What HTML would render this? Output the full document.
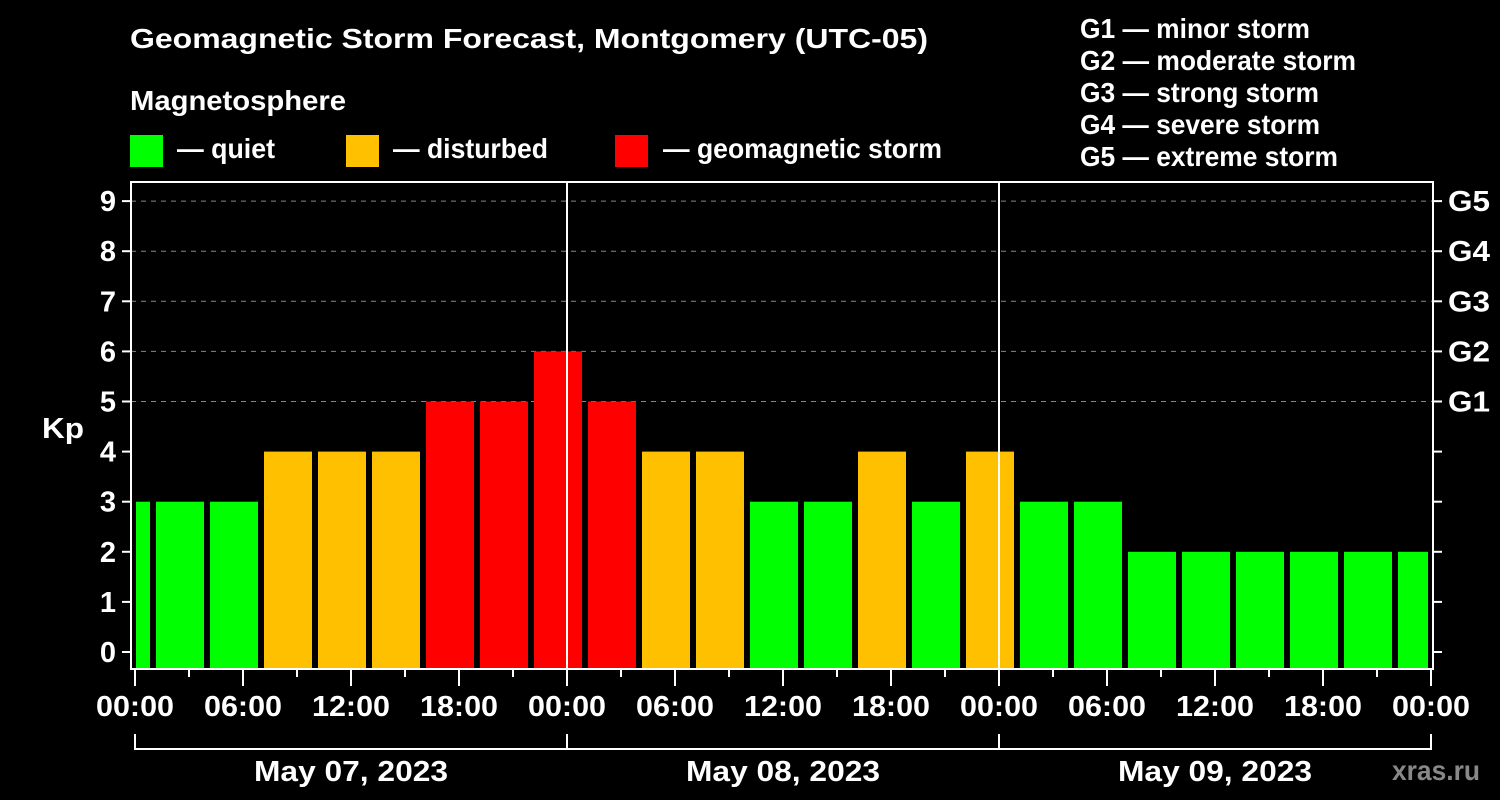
<!DOCTYPE html>
<html><head><meta charset="utf-8"><style>
body{margin:0;background:#000;}
svg{display:block;font-family:"Liberation Sans",sans-serif;font-weight:bold;}
</style></head><body>
<svg id="c" width="1500" height="800" viewBox="0 0 1500 800">
<rect width="1500" height="800" fill="#000"/>
<text x="130" y="48" fill="#fff" font-size="28" textLength="798" lengthAdjust="spacingAndGlyphs">Geomagnetic Storm Forecast, Montgomery (UTC-05)</text>
<text x="130" y="110" fill="#fff" font-size="28" textLength="216" lengthAdjust="spacingAndGlyphs">Magnetosphere</text>
<g><rect x="130" y="135" width="33" height="32" fill="#00ff00"/><text x="177" y="158" fill="#fff" font-size="28" textLength="98" lengthAdjust="spacingAndGlyphs">— quiet</text></g>
<g><rect x="346" y="135" width="33" height="32" fill="#ffc000"/><text x="393" y="158" fill="#fff" font-size="28" textLength="155" lengthAdjust="spacingAndGlyphs">— disturbed</text></g>
<g><rect x="615" y="135" width="33" height="32" fill="#ff0000"/><text x="663" y="158" fill="#fff" font-size="28" textLength="279" lengthAdjust="spacingAndGlyphs">— geomagnetic storm</text></g>
<g fill="#fff" font-size="28">
<text x="1080" y="38" textLength="230" lengthAdjust="spacingAndGlyphs">G1 — minor storm</text>
<text x="1080" y="70" textLength="276" lengthAdjust="spacingAndGlyphs">G2 — moderate storm</text>
<text x="1080" y="102" textLength="239" lengthAdjust="spacingAndGlyphs">G3 — strong storm</text>
<text x="1080" y="134" textLength="240" lengthAdjust="spacingAndGlyphs">G4 — severe storm</text>
<text x="1080" y="166" textLength="258" lengthAdjust="spacingAndGlyphs">G5 — extreme storm</text>
</g>
<text x="42" y="438" fill="#fff" font-size="29" textLength="42" lengthAdjust="spacingAndGlyphs">Kp</text>
<text x="1392" y="780" fill="#888" font-size="28" textLength="88" lengthAdjust="spacingAndGlyphs">xras.ru</text>
<g id="plot"></g>
</svg>
<script>
const kpValues=[3,3,3,4,4,4,5,5,6,5,4,4,3,3,4,3,4,3,3,2,2,2,2,2,2];
const barStartHours=[-2,1,4,7,10,13,16,19,22,25,28,31,34,37,40,43,46,49,52,55,58,61,64,67,70];
const yTicks=[0,1,2,3,4,5,6,7,8,9];
const gLabels=["G1","G2","G3","G4","G5"];
const hourLabels=["00:00","06:00","12:00","18:00"];
const dayLabels=["May 07, 2023","May 08, 2023","May 09, 2023"];
const NS="http://www.w3.org/2000/svg";
const g=document.getElementById('plot');
const X0=135,PH=18,Y0=652,PY=50.1,L=131,R=1433,T=182,B=669;
const xs=h=>X0+h*PH, ys=v=>Y0-v*PY;
function mk(t,a,p){const e=document.createElementNS(NS,t);for(const k in a)e.setAttribute(k,a[k]);(p||g).appendChild(e);return e;}
function col(v){return v>=5?"#ff0000":v>=4?"#ffc000":"#00ff00";}
yTicks.forEach(v=>{if(v>=5){const l=mk('line',{x1:L,x2:R,y1:ys(v),y2:ys(v),stroke:'#888','stroke-dasharray':'5,5','stroke-width':1});

}});
kpValues.forEach((v,i)=>{const x1=Math.max(xs(barStartHours[i])+3,X0+1),x2=Math.min(xs(barStartHours[i]+3)-3,xs(72)-3);
const y=ys(v);const r=mk('rect',{x:x1,y:y,width:x2-x1,height:668-y,fill:col(v)});

});
[1,2].forEach(d=>{const l=mk('line',{x1:xs(24*d),x2:xs(24*d),y1:T,y2:B,stroke:'#fff','stroke-width':2});

});
const f=mk('rect',{x:L,y:T,width:R-L,height:B-T,fill:'none',stroke:'#fff','stroke-width':2});


yTicks.forEach(v=>{mk('line',{x1:L-9,x2:L,y1:ys(v),y2:ys(v),stroke:'#fff','stroke-width':2});
mk('line',{x1:R,x2:R+9,y1:ys(v),y2:ys(v),stroke:'#fff','stroke-width':2});
const t=mk('text',{x:116,y:ys(v)+10,fill:'#fff','font-size':29,'text-anchor':'end'});t.textContent=v;

});
gLabels.forEach((s,i)=>{const t=mk('text',{x:1448,y:ys(5+i)+10,fill:'#fff','font-size':29,textLength:42,lengthAdjust:'spacingAndGlyphs'});t.textContent=s;

});
for(let h=0;h<=72;h+=3){const maj=h%6===0;mk('line',{x1:xs(h),x2:xs(h),y1:B,y2:maj?686:677,stroke:'#fff','stroke-width':2});
if(maj){const t=mk('text',{x:xs(h),y:716,fill:'#fff','font-size':29,'text-anchor':'middle',textLength:78,lengthAdjust:'spacingAndGlyphs'});t.textContent=hourLabels[(h/6)%4];

}}
mk('line',{x1:xs(0),x2:xs(72),y1:749,y2:749,stroke:'#fff','stroke-width':2});
[0,1,2,3].forEach(d=>mk('line',{x1:xs(24*d),x2:xs(24*d),y1:734,y2:750,stroke:'#fff','stroke-width':2}));
dayLabels.forEach((s,d)=>{const t=mk('text',{x:xs(24*d+12),y:781,fill:'#fff','font-size':29,'text-anchor':'middle',textLength:194,lengthAdjust:'spacingAndGlyphs'});t.textContent=s;

});
</script>
</body></html>
